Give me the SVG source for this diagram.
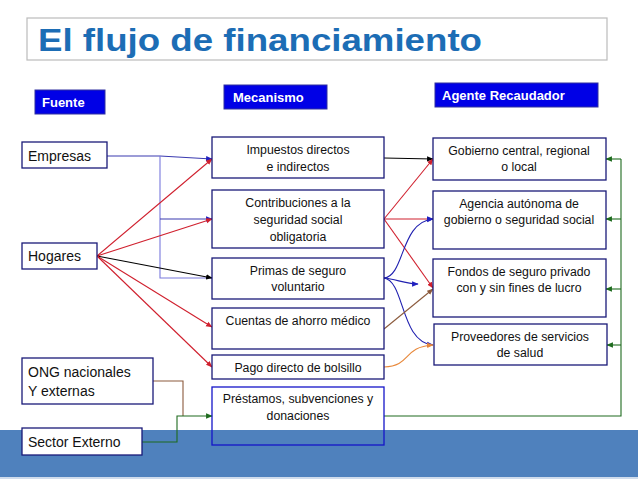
<svg xmlns="http://www.w3.org/2000/svg" width="638" height="479" viewBox="0 0 638 479">
<defs>
<style>
.node{fill:#fff;stroke:#1A1A78;stroke-width:1.3}
.t{font-family:"Liberation Sans",Arial,sans-serif;font-size:12.3px;fill:#111;text-anchor:middle}
.tl{font-family:"Liberation Sans",Arial,sans-serif;font-size:14px;fill:#111}
.hdr{fill:#0000E6;stroke:#3030A0;stroke-width:1}
.ht{font-family:"Liberation Sans",Arial,sans-serif;font-size:13px;font-weight:bold;fill:#fff}
.c{fill:none;stroke-width:1.1}
</style>
<marker id="aBk" viewBox="0 0 10 10" refX="9" refY="5" markerWidth="6" markerHeight="6" orient="auto"><path d="M0,1L10,5L0,9z" fill="#000"/></marker>
<marker id="aR" viewBox="0 0 10 10" refX="9" refY="5" markerWidth="6" markerHeight="6" orient="auto"><path d="M0,1L10,5L0,9z" fill="#D0202E"/></marker>
<marker id="aB" viewBox="0 0 10 10" refX="9" refY="5" markerWidth="6" markerHeight="6" orient="auto"><path d="M0,1L10,5L0,9z" fill="#2020C0"/></marker>
<marker id="aG" viewBox="0 0 10 10" refX="9" refY="5" markerWidth="6" markerHeight="6" orient="auto"><path d="M0,1L10,5L0,9z" fill="#1E6B1E"/></marker>
<marker id="aBr" viewBox="0 0 10 10" refX="9" refY="5" markerWidth="6" markerHeight="6" orient="auto"><path d="M0,1L10,5L0,9z" fill="#8B5A3C"/></marker>
<marker id="aO" viewBox="0 0 10 10" refX="9" refY="5" markerWidth="6" markerHeight="6" orient="auto"><path d="M0,1L10,5L0,9z" fill="#E8883A"/></marker>
</defs>
<rect x="0" y="0" width="638" height="479" fill="#fff"/>
<rect x="0" y="430" width="638" height="47" fill="#4F81BD"/>
<rect x="0" y="477" width="638" height="2" fill="#D0DCEC"/>

<g id="title">
<rect x="27" y="18" width="580" height="42" fill="#fff" stroke="#BBBBBB" stroke-width="1.2"/>
<text x="38" y="51" font-family="'Liberation Sans',Arial,sans-serif" font-size="32" font-weight="bold" fill="#1C6DB5" textLength="444" lengthAdjust="spacingAndGlyphs">El flujo de financiamiento</text>
</g>
<g id="h-fuente"><rect class="hdr" x="35" y="90" width="70" height="24"/><text class="ht" x="42" y="107">Fuente</text></g>
<g id="h-mecanismo"><rect class="hdr" x="224" y="85" width="103" height="24"/><text class="ht" x="233" y="102">Mecanismo</text></g>
<g id="h-agente"><rect class="hdr" x="435" y="83" width="163" height="24"/><text class="ht" x="442" y="100">Agente Recaudador</text></g>

<g id="connectors">
<path class="c" d="M107,156 H160 L212,159" stroke="#3A3AB0" marker-end="url(#aB)"/>
<path class="c" d="M160,156 V278 H212" stroke="#7878DC"/>
<path class="c" d="M160,219 H212" stroke="#3A3AB0" marker-end="url(#aB)"/>
<path class="c" d="M97,256 L212,159" stroke="#D0202E" marker-end="url(#aR)"/>
<path class="c" d="M97,256 L212,219" stroke="#D0202E" marker-end="url(#aR)"/>
<path class="c" d="M97,256 L212,278" stroke="#000" marker-end="url(#aBk)"/>
<path class="c" d="M97,256 L212,327" stroke="#D0202E" marker-end="url(#aR)"/>
<path class="c" d="M97,256 L212,367" stroke="#D0202E" marker-end="url(#aR)"/>
<path class="c" d="M384,158 L433,159" stroke="#000" marker-end="url(#aBk)"/>
<path class="c" d="M384,219 L433,159" stroke="#D0202E" marker-end="url(#aR)"/>
<path class="c" d="M384,219 L433,219" stroke="#D0202E" marker-end="url(#aB)"/>
<path class="c" d="M384,219 L433,288" stroke="#D0202E" marker-end="url(#aR)"/>
<path class="c" d="M384,278 C405,276 400,222 433,219" stroke="#2020B0" marker-end="url(#aB)"/>
<path class="c" d="M384,278 C396,279 405,284 418,284" stroke="#2020B0" marker-end="url(#aB)"/>
<path class="c" d="M384,278 C405,281 400,342 433,345" stroke="#2020B0" marker-end="url(#aB)"/>
<path class="c" d="M384,329 L433,289" stroke="#8B5A3C" marker-end="url(#aBr)"/>
<path class="c" d="M384,367 C412,366 402,347 433,345" stroke="#E8883A" marker-end="url(#aO)"/>
<path class="c" d="M153,381 H183 V416" stroke="#8B5A3C"/>
<path class="c" d="M142,442 H177 V416 H212" stroke="#1E6B1E" marker-end="url(#aG)"/>
<path class="c" d="M384,416 H621 V159" stroke="#1E6B1E" stroke-width="2"/>
<path class="c" d="M621,159 H606" stroke="#1E6B1E" marker-end="url(#aG)"/>
<path class="c" d="M621,219 H606" stroke="#1E6B1E" marker-end="url(#aG)"/>
<path class="c" d="M621,289 H606" stroke="#1E6B1E" marker-end="url(#aG)"/>
<path class="c" d="M621,345 H607" stroke="#1E6B1E" marker-end="url(#aG)"/>
</g>

<g id="empresas"><rect class="node" x="22" y="142" width="85" height="26"/><text class="tl" x="28" y="161">Empresas</text></g>
<g id="hogares"><rect class="node" x="22" y="243" width="75" height="26"/><text class="tl" x="28" y="261">Hogares</text></g>
<g id="ong"><rect class="node" x="22" y="358" width="131" height="46"/><text class="tl" x="28" y="377">ONG nacionales</text><text class="tl" x="28" y="396">Y externas</text></g>
<g id="sector-externo"><rect class="node" x="22" y="428" width="120" height="27"/><text class="tl" x="28" y="447">Sector Externo</text></g>

<g id="impuestos"><rect class="node" x="212" y="137" width="172" height="41"/><text class="t" x="298" y="154">Impuestos directos</text><text class="t" x="298" y="171">e indirectos</text></g>
<g id="contribuciones"><rect class="node" x="212" y="190" width="172" height="58"/><text class="t" x="298" y="207">Contribuciones a la</text><text class="t" x="298" y="224">seguridad social</text><text class="t" x="298" y="241">obligatoria</text></g>
<g id="primas"><rect class="node" x="212" y="258" width="172" height="41"/><text class="t" x="298" y="275">Primas de seguro</text><text class="t" x="298" y="291">voluntario</text></g>
<g id="cuentas"><rect class="node" x="212" y="308" width="172" height="41"/><text class="t" x="298" y="325">Cuentas de ahorro médico</text></g>
<g id="pago"><rect class="node" x="212" y="355" width="172" height="24"/><text class="t" x="298" y="372">Pago directo de bolsillo</text></g>
<g id="prestamos"><rect class="node" x="212" y="387" width="172" height="58" style="fill:none;stroke:#1515C8"/><text class="t" x="298" y="403">Préstamos, subvenciones y</text><text class="t" x="298" y="420">donaciones</text></g>

<g id="gobierno"><rect class="node" x="433" y="138" width="173" height="42"/><text class="t" x="519" y="155">Gobierno central, regional</text><text class="t" x="519" y="171">o local</text></g>
<g id="agencia"><rect class="node" x="433" y="191" width="173" height="58"/><text class="t" x="519" y="208">Agencia autónoma de</text><text class="t" x="519" y="224">gobierno o seguridad social</text></g>
<g id="fondos"><rect class="node" x="433" y="259" width="173" height="58"/><text class="t" x="519" y="276">Fondos de seguro privado</text><text class="t" x="519" y="292">con y sin fines de lucro</text></g>
<g id="proveedores"><rect class="node" x="434" y="324" width="173" height="41"/><text class="t" x="520" y="341">Proveedores de servicios</text><text class="t" x="520" y="357">de salud</text></g>
</svg>
